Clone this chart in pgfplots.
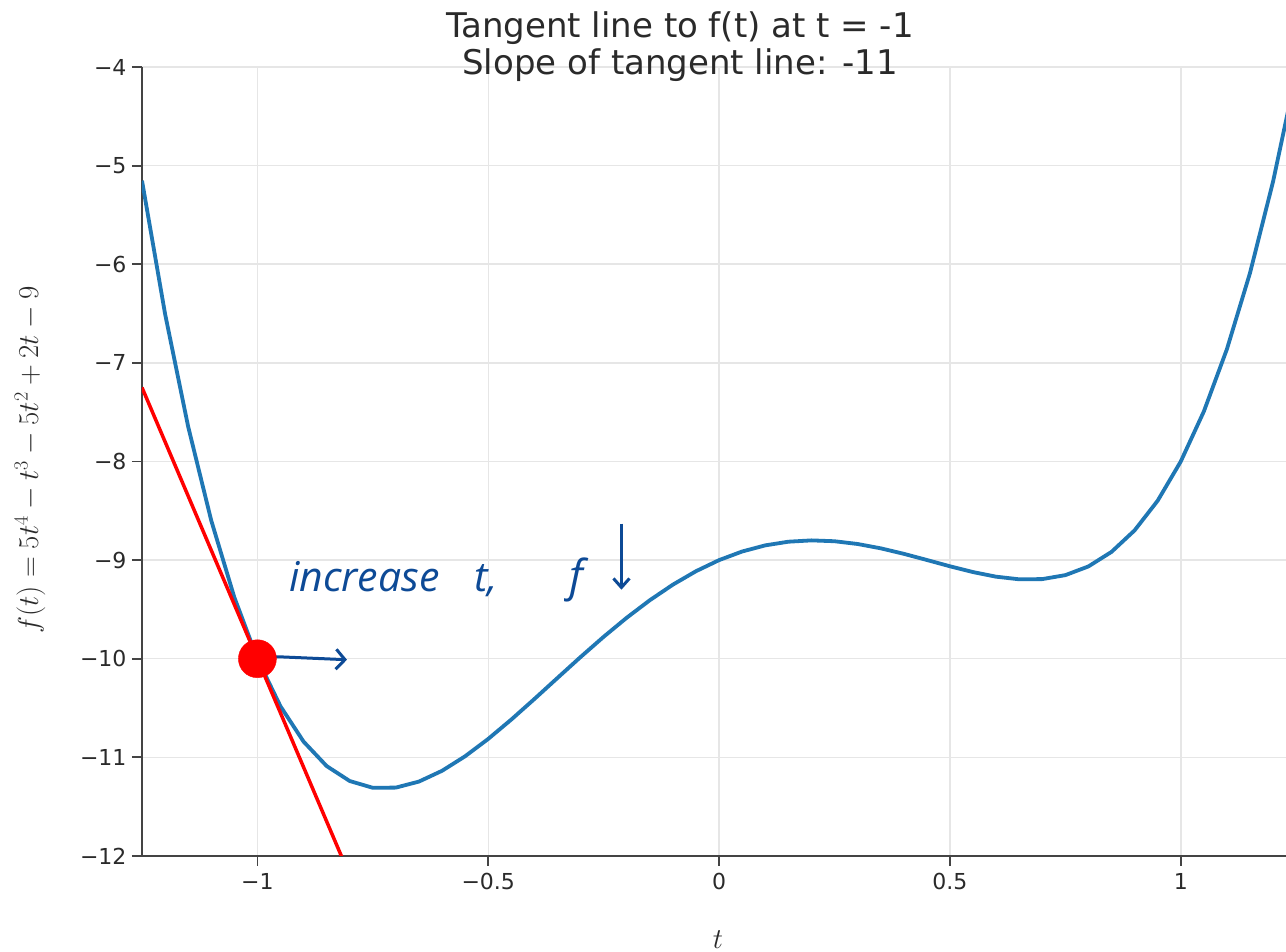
\documentclass[border=0pt]{standalone}
\usepackage{pgfplots}
\pgfplotsset{compat=1.18}
\usepackage[no-math]{fontspec}
\setmainfont{DejaVu Sans}
\newfontfamily\handfont{Open Sans}
\usetikzlibrary{arrows.meta}
\definecolor{curveblue}{HTML}{1F77B4}
\definecolor{handblue}{HTML}{0D4A96}
\definecolor{inkdark}{HTML}{2A2A2A}
\definecolor{axisink}{HTML}{444444}
\definecolor{gridgray}{HTML}{E6E6E6}

% f(t) = 5t^4 - t^3 - 5t^2 + 2t - 9, sampled every 0.05
\pgfplotstableread{
t f
-1.25 -5.15234
-1.20 -6.504
-1.15 -7.64659
-1.10 -8.5985
-1.05 -9.37734
-1.00 -10.0
-0.95 -10.48259
-0.90 -10.8405
-0.85 -11.08834
-0.80 -11.24
-0.75 -11.30859
-0.70 -11.3065
-0.65 -11.24534
-0.60 -11.136
-0.55 -10.98859
-0.50 -10.8125
-0.45 -10.61634
-0.40 -10.408
-0.35 -10.19459
-0.30 -9.9825
-0.25 -9.77734
-0.20 -9.584
-0.15 -9.40659
-0.10 -9.2485
-0.05 -9.11234
0.00 -9.0
0.05 -8.9126
0.10 -8.8505
0.15 -8.81335
0.20 -8.8
0.25 -8.8086
0.30 -8.8365
0.35 -8.88035
0.40 -8.936
0.45 -8.9986
0.50 -9.0625
0.55 -9.12135
0.60 -9.168
0.65 -9.1946
0.70 -9.1925
0.75 -9.15235
0.80 -9.064
0.85 -8.9166
0.90 -8.6985
0.95 -8.39735
1.00 -8.0
1.05 -7.4926
1.10 -6.8605
1.15 -6.08835
1.20 -5.16
1.25 -4.0586
}\curvedata

\begin{document}
\begin{tikzpicture}
\path[fill=white, use as bounding box] (-142pt,-96pt) rectangle (1144pt,856pt);
\begin{axis}[
    at={(0pt,0pt)}, anchor=south west,
    scale only axis, width=1144pt, height=789pt,
    xmin=-1.25, xmax=1.228, ymin=-12, ymax=-4,
    axis x line*=bottom, axis y line*=left,
    axis line style={axisink, line width=1.8pt},
    xtick={-1,-0.5,0,0.5,1},
    xticklabels={−1,−0.5,0,0.5,1},
    ytick={-12,-11,-10,-9,-8,-7,-6,-5,-4},
    yticklabels={−12,−11,−10,−9,−8,−7,−6,−5,−4},
    tick align=outside, major tick length=10pt,
    tick style={axisink, line width=1.8pt},
    ticklabel style={font=\fontsize{22}{26}\selectfont, text=inkdark},
    xticklabel style={yshift=-4pt},
    yticklabel style={xshift=-2pt},
    grid=major, grid style={gridgray, line width=1.5pt},
  ]
  \addplot[curveblue, line width=3.8pt] table[x=t, y=f] {\curvedata};
  \addplot[red, line width=3.5pt] coordinates {(-1.25,-7.25) (-0.5,-15.5)};
  \addplot[only marks, mark=*, mark size=19pt, color=red] coordinates {(-1,-10)};
  % handwritten note
  \node[anchor=base west, handblue, font=\fontsize{41}{44}\selectfont\handfont\itshape, inner sep=0pt]
    at (axis cs:-0.9315,-9.316) {increase};
  \node[anchor=base west, handblue, font=\fontsize{41}{44}\selectfont\handfont\itshape, inner sep=0pt]
    at (axis cs:-0.5305,-9.316) {t,};
  \node[anchor=base west, handblue, font=\fontsize{44}{44}\selectfont\handfont\itshape, inner sep=0pt]
    at (axis cs:-0.3245,-9.316) {f};
  \draw[handblue, line width=3pt, -{Straight Barb[length=9pt, width=16pt]}]
    (axis cs:-0.2115,-8.63) -- (axis cs:-0.2115,-9.30);
  \draw[handblue, line width=3pt, line cap=round, -{Straight Barb[length=9pt, width=20pt]}]
    (axis cs:-1.0,-10.03) to[out=20, in=180] (axis cs:-0.955,-9.98) -- (axis cs:-0.806,-10.01);
\end{axis}
% title
\node[anchor=base, text=inkdark, font=\fontsize{34}{40}\selectfont] at (538pt,818pt) {Tangent line to f(t) at t = -1};
\node[anchor=base, text=inkdark, font=\fontsize{34}{40}\selectfont] at (538pt,781pt) {Slope of tangent line: -11};
% axis labels (math sizes stop at 24.88pt, so scale the node)
\node[rotate=90, scale=1.16, text=inkdark, font=\fontsize{24}{28}\selectfont] at (-112pt,396pt) {$f(t) = 5t^4 - t^3 - 5t^2 + 2t - 9$};
\node[scale=1.16, text=inkdark, font=\fontsize{24}{28}\selectfont] at (576pt,-84pt) {$t$};
\end{tikzpicture}
\end{document}
